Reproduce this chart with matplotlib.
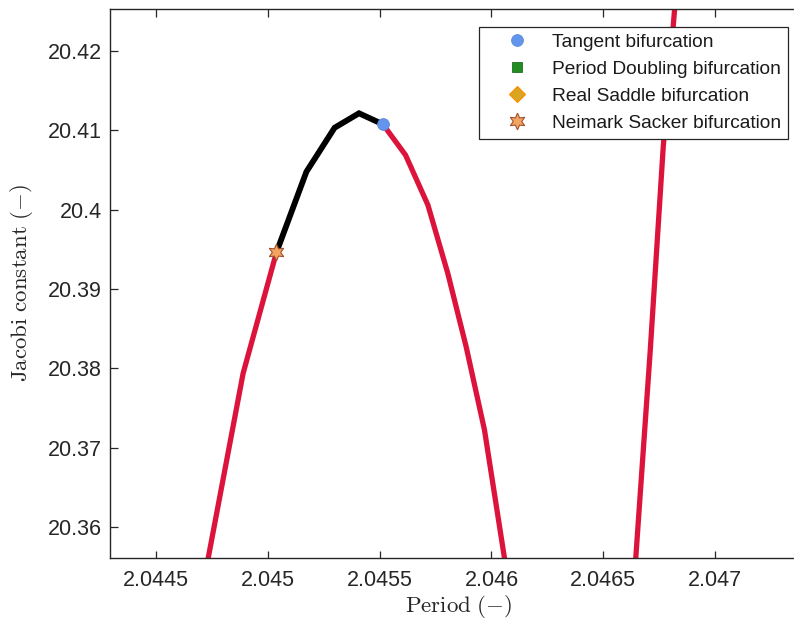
import matplotlib
matplotlib.use("Agg")
import matplotlib.pyplot as plt

# ---- data ----
left_red_x = [2.044693, 2.044890, 2.045039]
left_red_y = [20.35000, 20.37937, 20.39461]

black_x = [2.045039, 2.045173, 2.045299, 2.045408, 2.045515]
black_y = [20.39461, 20.40476, 20.41030, 20.41212, 20.41073]

right_red_x = [2.045515, 2.045616, 2.045716, 2.045805, 2.045887, 2.045969, 2.046092]
right_red_y = [20.41073, 20.40686, 20.40057, 20.39196, 20.38272, 20.37223, 20.35000]

far_red_x = [2.046630, 2.046710, 2.046768, 2.046826]
far_red_y = [20.35000, 20.38231, 20.40791, 20.42770]

tangent_x = [2.045515]
tangent_y = [20.41073]
pd_x = []
pd_y = []
rs_x = []
rs_y = []
ns_x = [2.045039]
ns_y = [20.39461]

xticks = [2.0445, 2.045, 2.0455, 2.046, 2.0465, 2.047]
xticklabels = ["2.0445", "2.045", "2.0455", "2.046", "2.0465", "2.047"]
yticks = [20.36, 20.37, 20.38, 20.39, 20.40, 20.41, 20.42]
yticklabels = ["20.36", "20.37", "20.38", "20.39", "20.4", "20.41", "20.42"]

plt.rcParams['mathtext.fontset'] = 'cm'
plt.rcParams['font.family'] = ['Liberation Sans', 'DejaVu Sans']

fig = plt.figure(figsize=(7.94, 6.25), dpi=100)
W, H = 794, 625
ax = fig.add_axes([110 / W, 1 - 558 / H, (808 - 110) / W, (558 - 9) / H])

red = '#DC143C'
lw = 3.8
ax.plot(left_red_x, left_red_y, color=red, lw=lw, solid_capstyle='butt', zorder=2)
ax.plot(right_red_x, right_red_y, color=red, lw=lw, solid_capstyle='butt', zorder=2)
ax.plot(far_red_x, far_red_y, color=red, lw=lw, solid_capstyle='butt', zorder=2)
ax.plot(black_x, black_y, color='black', lw=lw + 0.4, solid_joinstyle='miter', zorder=3)

h1, = ax.plot(tangent_x, tangent_y, 'o', color='#6495ED', markeredgecolor='#5A8AD8',
              markersize=8.5, markeredgewidth=0.6, zorder=5, label='Tangent bifurcation')
h2, = ax.plot(pd_x, pd_y, 's', color='#228B22', markeredgecolor='#1E6E1E',
              markersize=7, markeredgewidth=0.6, zorder=5, label='Period Doubling bifurcation')
h3, = ax.plot(rs_x, rs_y, 'D', color='#DAA520', markeredgecolor='#FF8C00',
              markersize=8, markeredgewidth=0.8, zorder=5, label='Real Saddle bifurcation')
h4, = ax.plot(ns_x, ns_y, marker=(6, 1, 0), linestyle='none', color='#F4A460',
              markeredgecolor='#A0522D', markersize=12, markeredgewidth=0.8, zorder=5,
              label='Neimark Sacker bifurcation')

ax.set_xlim(2.044295, 2.047415)
ax.set_ylim(20.35612, 20.42525)
ax.set_xticks(xticks)
ax.set_xticklabels(xticklabels)
ax.set_yticks(yticks)
ax.set_yticklabels(yticklabels)

spine_c = '#262626'
for s in ['left', 'bottom', 'top']:
    ax.spines[s].set_color(spine_c)
    ax.spines[s].set_linewidth(1.0)
ax.spines['right'].set_visible(False)
ax.tick_params(axis='both', direction='in', length=5.4, width=0.9, color=spine_c,
               labelsize=15.5, labelcolor='#262626', top=True, right=False)
ax.tick_params(axis='x', pad=9)
ax.tick_params(axis='y', pad=6)

fig.text(459 / W, 1 - 607 / H, r'$\mathrm{Period\ (-)}$', ha='center', va='center',
         fontsize=16.5, color='#262626')
fig.text(22 / W, 1 - 283 / H, r'$\mathrm{Jacobi\ constant\ (-)}$', ha='center', va='center',
         rotation=90, fontsize=16.5, color='#262626')

leg = ax.legend(handles=[h1, h2, h3, h4], loc='upper right',
                bbox_to_anchor=(788 / W, 1 - 27 / H), bbox_transform=fig.transFigure,
                borderaxespad=0, fontsize=13.8, frameon=True, fancybox=False,
                edgecolor='#262626', framealpha=1, handlelength=3.2, handletextpad=0.25,
                borderpad=0.35, labelspacing=0.5, numpoints=1)
leg.get_frame().set_linewidth(0.9)
for t in leg.get_texts():
    t.set_color('#1a1a1a')

fig.savefig('out.png', dpi=100)
